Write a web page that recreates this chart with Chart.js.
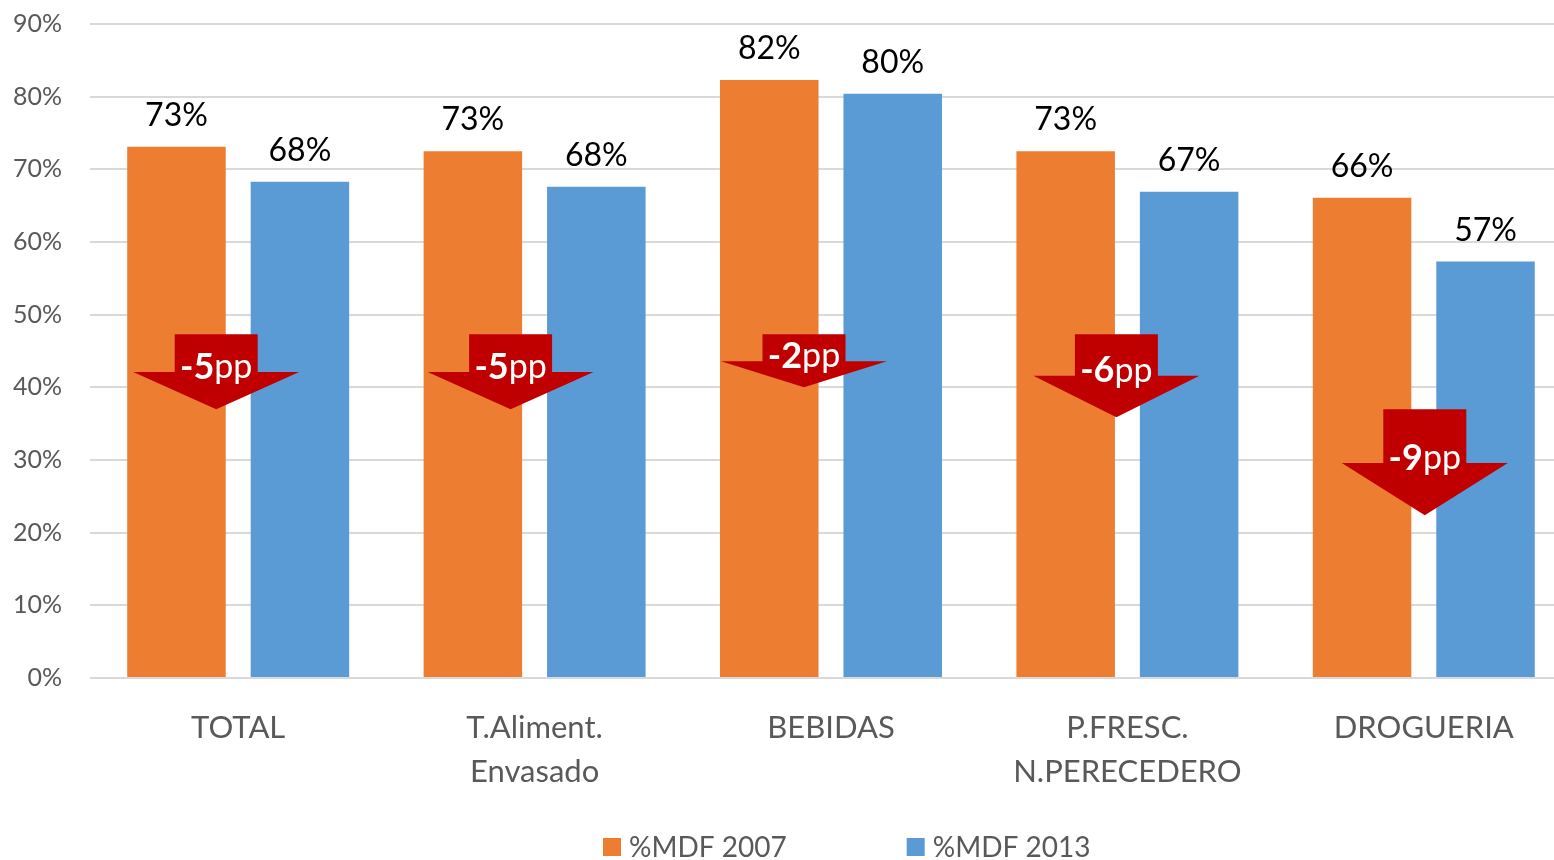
<!DOCTYPE html>
<html>
<head>
<meta charset="utf-8">
<script src="https://cdn.jsdelivr.net/npm/chart.js@4.4.1/dist/chart.umd.min.js"></script>
<style>
  html, body { margin: 0; padding: 0; background: #fff; overflow: hidden; }
  #wrap { width: 1572px; height: 860px; position: relative; }
</style>
</head>
<body>
<div id="wrap"><canvas id="mdfChart"></canvas></div>
<script>
const categories = [["TOTAL"], ["T.Aliment.", "Envasado"], ["BEBIDAS"], ["P.FRESC.", "N.PERECEDERO"], ["DROGUERIA"]];
const mdf2007 = [73.1, 72.5, 82.3, 72.5, 66.1];
const mdf2013 = [68.3, 67.6, 80.4, 66.9, 57.3];
const seriesNames = ["%MDF 2007", "%MDF 2013"];
const yTicks = [0, 10, 20, 30, 40, 50, 60, 70, 80, 90];

// arrow placement (value units for heights, px offset from category centre)
const arrowBoxTop = [47.3, 47.3, 47.3, 47.3, 37.0];
const arrowBase = [42.1, 42.1, 43.6, 41.6, 29.6];
const arrowTip = [37.0, 37.0, 40.0, 35.9, 22.4];
const arrowShift = [-22, -24, -27, -11, 1];

const FONT = "Lato, 'Open Sans', sans-serif";
const ORANGE = "#ED7D31";
const BLUE = "#5B9BD5";

const overlayPlugin = {
  id: "overlay",
  afterDatasetsDraw(chart) {
    const c = chart.ctx;
    const y = chart.scales.y;
    const x = chart.scales.x;

    // value labels above bars
    c.save();
    c.fillStyle = "#000";
    c.font = "32px " + FONT;
    c.textAlign = "center";
    c.textBaseline = "alphabetic";
    chart.data.datasets.forEach((ds, i) => {
      chart.getDatasetMeta(i).data.forEach((bar, j) => {
        c.fillText(Math.round(ds.data[j]) + "%", bar.x, bar.y - 21);
      });
    });
    c.restore();

    // drop arrows
    categories.forEach((cat, j) => {
      const cx = x.getPixelForValue(j) + arrowShift[j];
      const top = y.getPixelForValue(arrowBoxTop[j]);
      const base = y.getPixelForValue(arrowBase[j]);
      const tip = y.getPixelForValue(arrowTip[j]);
      const bw = 41.5, tw = 83;
      c.save();
      c.fillStyle = "#C00000";
      c.beginPath();
      c.moveTo(cx - bw, top);
      c.lineTo(cx + bw, top);
      c.lineTo(cx + bw, base);
      c.lineTo(cx + tw, base);
      c.lineTo(cx, tip);
      c.lineTo(cx - tw, base);
      c.lineTo(cx - bw, base);
      c.closePath();
      c.fill();

      const num = String(Math.round(mdf2013[j]) - Math.round(mdf2007[j]));
      c.fillStyle = "#fff";
      c.textBaseline = "middle";
      c.font = "bold 36px " + FONT;
      const w1 = c.measureText(num).width;
      c.font = "34px " + FONT;
      const w2 = c.measureText("pp").width;
      const sx = cx - (w1 + w2) / 2;
      const ty = base - 5;
      c.textAlign = "left";
      c.font = "bold 36px " + FONT;
      c.fillText(num, sx, ty);
      c.font = "34px " + FONT;
      c.fillText("pp", sx + w1, ty);
      c.restore();
    });
  },
  afterDraw(chart) {
    // legend
    const c = chart.ctx;
    c.save();
    c.font = "28px " + FONT;
    c.textBaseline = "middle";
    const box = 18, gap = 8, spacing = 120;
    const widths = seriesNames.map((n) => box + gap + c.measureText(n).width);
    let lx = 603;
    const ly = 847;
    chart.data.datasets.forEach((ds, i) => {
      c.fillStyle = ds.backgroundColor;
      c.fillRect(lx, ly - box / 2, box, box);
      c.fillStyle = "#595959";
      c.textAlign = "left";
      c.fillText(seriesNames[i], lx + box + gap, ly + 1);
      lx += widths[i] + spacing;
    });
    c.restore();
  },
};

new Chart(document.getElementById("mdfChart"), {
  type: "bar",
  data: {
    labels: categories,
    datasets: [
      { label: seriesNames[0], data: mdf2007, backgroundColor: ORANGE },
      { label: seriesNames[1], data: mdf2013, backgroundColor: BLUE },
    ],
  },
  options: {
    responsive: true,
    maintainAspectRatio: false,
    animation: false,
    categoryPercentage: 0.833,
    barPercentage: 0.798,
    layout: { padding: { top: 24, right: 0, bottom: 52, left: 0 } },
    plugins: {
      legend: { display: false },
      tooltip: { enabled: false },
    },
    scales: {
      x: {
        grid: { display: false, drawTicks: false },
        border: { display: false },
        ticks: {
          color: "#595959",
          font: { family: FONT, size: 31, lineHeight: 1.42 },
          padding: 28,
          maxRotation: 0,
          autoSkip: false,
        },
        afterFit(scale) {
          scale.height = 130;
          scale.paddingLeft = 0;
          scale.paddingRight = 0;
        },
      },
      y: {
        min: 0,
        max: 90,
        afterBuildTicks(scale) {
          scale.ticks = yTicks.map((v) => ({ value: v }));
        },
        grid: { color: "#D9D9D9", lineWidth: 2, drawTicks: false },
        border: { display: false },
        ticks: {
          color: "#595959",
          font: { family: FONT, size: 25 },
          padding: 28,
          callback: (v) => v + "%",
        },
        afterFit(scale) {
          scale.width = 90;
          scale.paddingTop = 0;
          scale.paddingBottom = 0;
        },
      },
    },
  },
  plugins: [overlayPlugin],
});
</script>
</body>
</html>
